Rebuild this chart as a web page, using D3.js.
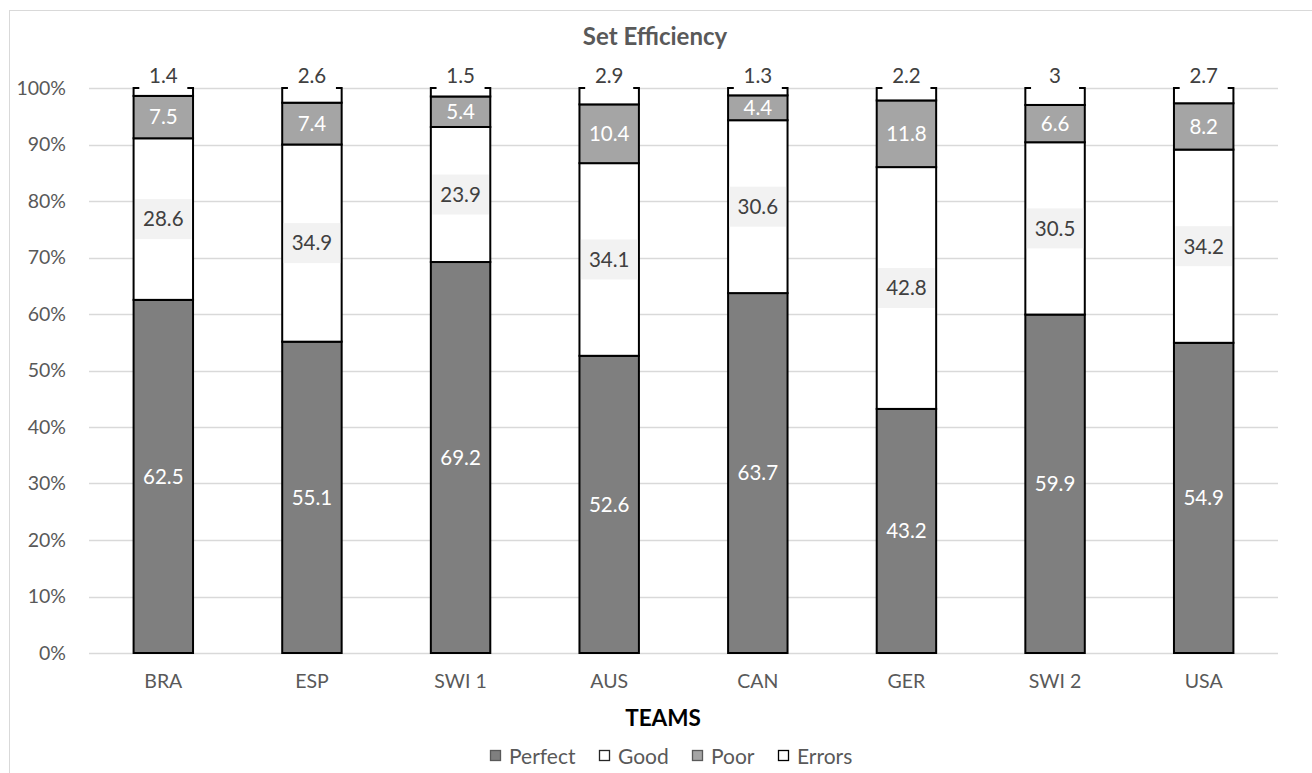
<!DOCTYPE html>
<html>
<head>
<meta charset="utf-8">
<script src="https://cdn.jsdelivr.net/npm/d3@7"></script>
<style>
  html, body { margin: 0; padding: 0; background: #fff; }
  svg { display: block; font-family: Lato, "Open Sans", sans-serif; }
</style>
</head>
<body>
<svg id="chart" width="1312" height="773"></svg>
<script>
// Set efficiency per team, in percent of all sets
const teams   = ["BRA", "ESP", "SWI 1", "AUS", "CAN", "GER", "SWI 2", "USA"];
const perfect = [62.5, 55.1, 69.2, 52.6, 63.7, 43.2, 59.9, 54.9];
const good    = [28.6, 34.9, 23.9, 34.1, 30.6, 42.8, 30.5, 34.2];
const poor    = [7.5, 7.4, 5.4, 10.4, 4.4, 11.8, 6.6, 8.2];
const errors  = [1.4, 2.6, 1.5, 2.9, 1.3, 2.2, 3, 2.7];
const seriesNames = ["Perfect", "Good", "Poor", "Errors"];
const yTicks = [0, 10, 20, 30, 40, 50, 60, 70, 80, 90, 100];

const rows = teams.map((t, i) => ({
  team: t, Perfect: perfect[i], Good: good[i], Poor: poor[i], Errors: errors[i]
}));

const fills = { Perfect: "#7f7f7f", Good: "#ffffff", Poor: "#a5a5a5", Errors: "#ffffff" };

const svg = d3.select("#chart");
const margin = { left: 89, right: 34, top: 88, bottom: 120 };
const W = 1312, H = 773;

const x = d3.scaleBand().domain(teams).range([margin.left, W - margin.right]).paddingInner(0.6).paddingOuter(0.3);
const y = d3.scaleLinear().domain([0, 100]).range([H - margin.bottom, margin.top]);

// chart frame
svg.append("rect").attr("x", 9.5).attr("y", 10.5).attr("width", 1330).attr("height", 800)
  .attr("fill", "none").attr("stroke", "#d9d9d9").attr("stroke-width", 1);

// title
svg.append("text").attr("x", 655).attr("y", 45).attr("text-anchor", "middle")
  .attr("font-size", 24).attr("font-weight", "bold").attr("fill", "#595959").text("Set Efficiency");

// gridlines
svg.append("g").selectAll("line").data(yTicks).join("line")
  .attr("x1", margin.left).attr("x2", W - margin.right)
  .attr("y1", d => Math.round(y(d)) + 0.5).attr("y2", d => Math.round(y(d)) + 0.5)
  .attr("stroke", "#d9d9d9").attr("stroke-width", 1.5);

// y axis labels
const yAxis = d3.axisLeft(y).tickValues(yTicks).tickFormat(d => d + "%").tickSize(0).tickPadding(0);
const yg = svg.append("g").attr("transform", `translate(${margin.left - 23},0)`).call(yAxis);
yg.select(".domain").remove();
yg.selectAll("text").attr("font-size", 19.5).attr("fill", "#595959").attr("font-family", "Lato, sans-serif");

// x axis labels
const xAxis = d3.axisBottom(x).tickSize(0).tickPadding(0);
const xg = svg.append("g").attr("transform", `translate(0,${y(0) + 21})`).call(xAxis);
xg.select(".domain").remove();
xg.selectAll("text").attr("font-size", 19.5).attr("fill", "#595959").attr("font-family", "Lato, sans-serif");

// axis title
svg.append("text").attr("x", 663).attr("y", 726).attr("text-anchor", "middle")
  .attr("font-size", 22.5).attr("font-weight", "bold").attr("fill", "#000").text("TEAMS");

// stacked bars
const stack = d3.stack().keys(seriesNames)(rows);
const bw = x.bandwidth();

const layers = svg.append("g").selectAll("g").data(stack).join("g");
layers.selectAll("rect").data(d => d.map(v => ({ key: d.key, v }))).join("rect")
  .attr("x", d => x(d.v.data.team))
  .attr("y", d => y(d.v[1]))
  .attr("width", bw)
  .attr("height", d => y(d.v[0]) - y(d.v[1]))
  .attr("fill", d => fills[d.key])
  .attr("stroke", "#000").attr("stroke-width", 2);

// data labels
const labels = svg.append("g").attr("font-size", 20.5);
stack.forEach(layer => {
  layer.forEach(v => {
    const cx = x(v.data.team) + bw / 2;
    const val = v.data[layer.key];
    let cy = (y(v[0]) + y(v[1])) / 2;
    let textFill = "#ffffff";
    if (layer.key === "Good") {
      labels.append("rect").attr("x", cx - bw / 2 + 1.5).attr("y", cy - 20).attr("width", bw - 3).attr("height", 40)
        .attr("fill", "#f2f2f2");
      textFill = "#404040";
    } else if (layer.key === "Errors") {
      cy = y(v[1]) - 12;
      labels.append("rect").attr("x", cx - 24).attr("y", cy - 14).attr("width", 48).attr("height", 27)
        .attr("fill", "#ffffff");
      textFill = "#404040";
    }
    labels.append("text").attr("x", cx).attr("y", cy).attr("dy", "0.36em")
      .attr("text-anchor", "middle").attr("fill", textFill).text(val);
  });
});

// legend
const legendX = [490, 599, 692, 778];
const legendFills = { Perfect: "#7f7f7f", Good: "#ffffff", Poor: "#a5a5a5", Errors: "#ffffff" };
const legendStroke = { Perfect: "#595959", Good: "#262626", Poor: "#595959", Errors: "#000" };
const lg = svg.append("g");
seriesNames.forEach((s, i) => {
  lg.append("rect").attr("x", legendX[i] + 0.5).attr("y", 750.5).attr("width", 10).attr("height", 10)
    .attr("fill", legendFills[s]).attr("stroke", legendStroke[s]).attr("stroke-width", 1.3);
  lg.append("text").attr("x", legendX[i] + 19).attr("y", 756).attr("dy", "0.36em")
    .attr("font-size", 21).attr("fill", "#595959").text(s);
});
</script>
</body>
</html>
